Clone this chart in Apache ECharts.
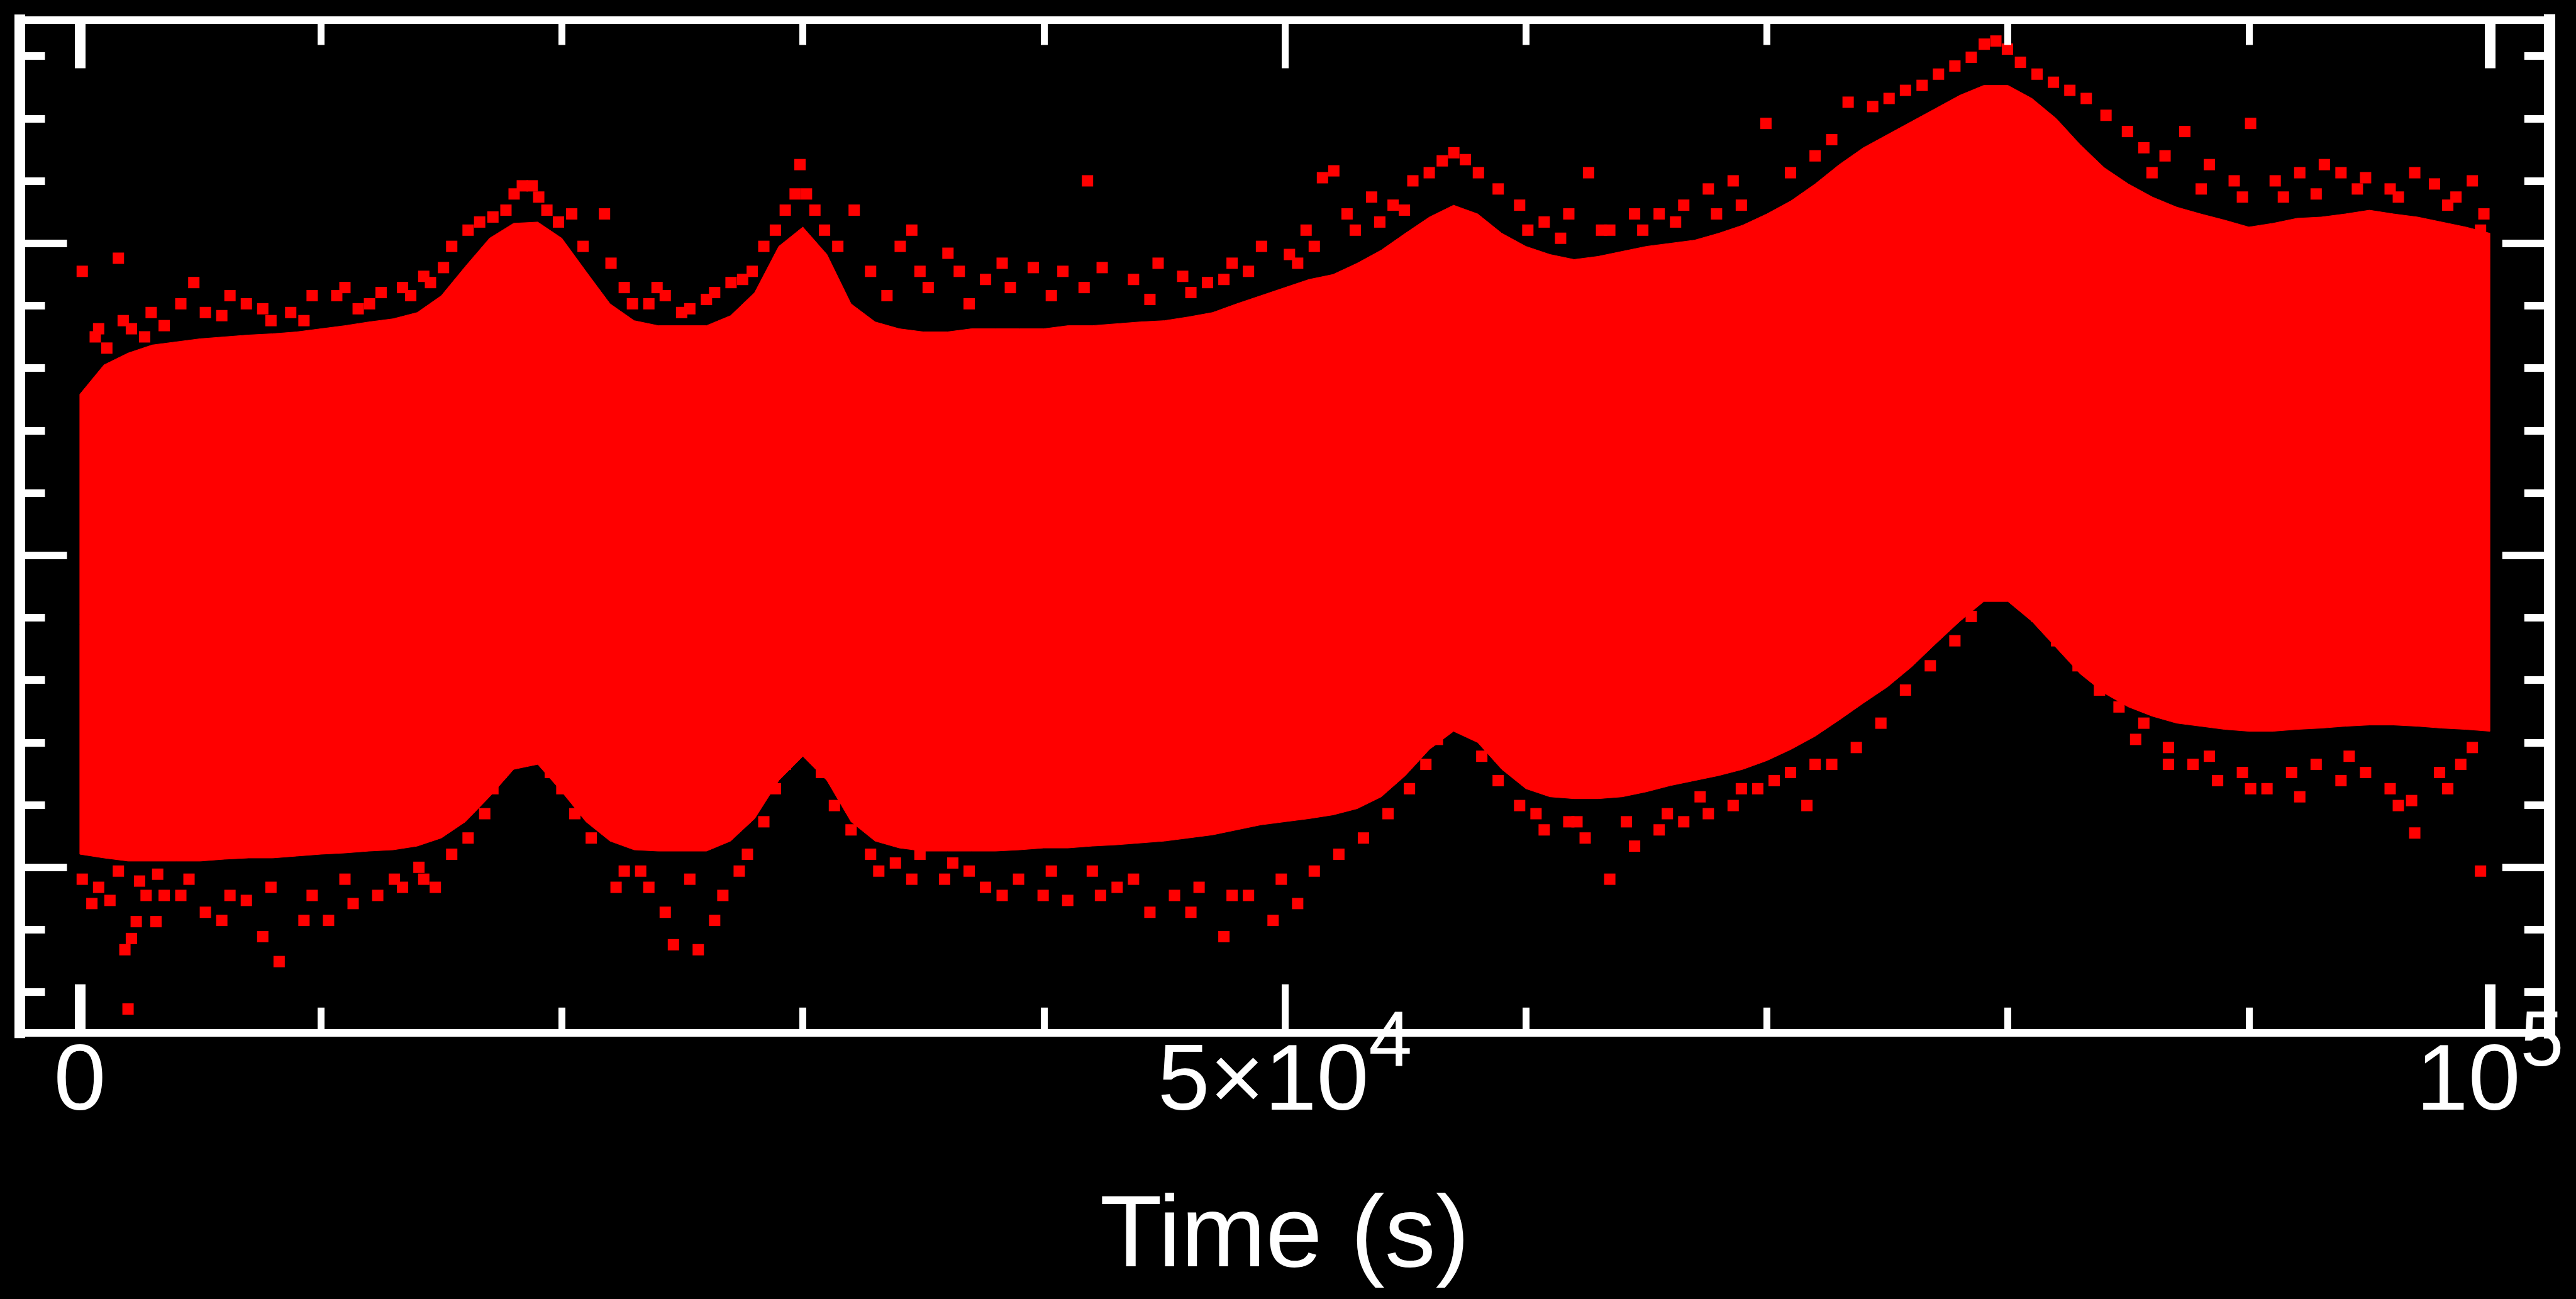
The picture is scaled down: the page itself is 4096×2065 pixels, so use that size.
<!DOCTYPE html>
<html><head><meta charset="utf-8">
<script src="https://cdn.jsdelivr.net/npm/echarts@6/dist/echarts.min.js"></script>
<style>html,body{margin:0;padding:0;background:#000;}#c{width:4096px;height:2065px;}</style>
</head><body><div id="c"></div>
<script>
// ---- data (time in s, arbitrary y units; y has no labels) ----
const times = [0,1000,2000,3000,4000,5000,6000,7000,8000,9000,
  10000,11000,12000,13000,14000,15000,16000,17000,18000,19000,
  20000,21000,22000,23000,24000,25000,26000,27000,28000,29000,
  30000,31000,32000,33000,34000,35000,36000,37000,38000,39000,
  40000,41000,42000,43000,44000,45000,46000,47000,48000,49000,
  50000,51000,52000,53000,54000,55000,56000,57000,58000,59000,
  60000,61000,62000,63000,64000,65000,66000,67000,68000,69000,
  70000,71000,72000,73000,74000,75000,76000,77000,78000,79000,
  80000,81000,82000,83000,84000,85000,86000,87000,88000,89000,
  90000,91000,92000,93000,94000,95000,96000,97000,98000,99000,100000];
// upper / lower edge of the densely filled part of the point cloud
const upperEnv = [12.58,13.05,13.24,13.37,13.42,13.47,13.50,13.53,13.55,13.58,
  13.63,13.68,13.74,13.79,13.89,14.16,14.63,15.08,15.32,15.34,
  15.08,14.55,14.03,13.76,13.68,13.68,13.68,13.84,14.21,14.95,
  15.26,14.82,14.03,13.74,13.63,13.58,13.58,13.63,13.63,13.63,
  13.63,13.68,13.68,13.71,13.74,13.76,13.82,13.89,14.03,14.16,
  14.29,14.42,14.50,14.68,14.89,15.16,15.42,15.61,15.47,15.16,
  14.95,14.82,14.74,14.79,14.87,14.95,15.00,15.05,15.16,15.29,
  15.47,15.68,15.95,16.26,16.53,16.74,16.95,17.16,17.37,17.53,
  17.53,17.32,17.00,16.58,16.21,15.95,15.74,15.58,15.47,15.37,
  15.26,15.32,15.40,15.42,15.47,15.53,15.47,15.42,15.34,15.26,15.16];
const lowerEnv = [5.21,5.15,5.10,5.10,5.10,5.10,5.13,5.15,5.15,5.18,
  5.21,5.23,5.26,5.28,5.34,5.47,5.73,6.13,6.57,6.65,
  6.21,5.73,5.42,5.28,5.26,5.26,5.26,5.42,5.78,6.39,
  6.78,6.39,5.73,5.42,5.31,5.26,5.26,5.26,5.26,5.28,
  5.31,5.31,5.34,5.36,5.39,5.42,5.47,5.52,5.60,5.68,
  5.73,5.78,5.84,5.94,6.13,6.47,6.89,7.18,7.00,6.57,
  6.26,6.13,6.10,6.10,6.13,6.21,6.31,6.39,6.47,6.57,
  6.71,6.89,7.10,7.36,7.63,7.89,8.21,8.58,8.94,9.26,
  9.26,8.94,8.52,8.10,7.79,7.57,7.42,7.31,7.26,7.21,
  7.18,7.18,7.21,7.23,7.26,7.28,7.28,7.26,7.23,7.21,7.18];
// scattered points above and below the dense part
const highOutliers = [[100,14.55],[1600,14.76],[640,13.50],[1120,13.32],[2140,13.63],[2960,13.89],[4190,14.03],[4730,14.37],[5890,13.84],[6910,14.03],[7930,13.76],[8750,13.89],[9640,14.16],[10660,14.16],[11550,13.95],[12500,14.21],[13390,14.29],[14270,14.47],[15090,14.61],[15430,14.95],[16110,15.21],[16590,15.34],[17140,15.42],[17680,15.53],[18020,15.79],[18360,15.92],[18770,15.92],[19040,15.74],[19380,15.53],[19860,15.34],[20410,15.47],[20880,14.95],[21770,15.47],[22040,14.68],[22590,14.29],[23610,14.03],[24290,14.16],[25310,13.95],[26340,14.21],[27500,14.42],[28380,14.95],[28860,15.21],[29270,15.53],[29680,15.79],[29880,16.26],[30150,15.79],[30500,15.53],[30900,15.21],[31450,14.95],[32130,15.53],[32810,14.55],[34040,14.95],[34520,15.21],[35200,14.29],[36020,14.84],[36490,14.55],[37580,14.42],[38610,14.29],[39560,14.61],[40790,14.55],[41810,16.00],[42420,14.61],[43720,14.42],[44740,14.68],[45760,14.47],[46790,14.37],[47810,14.68],[49030,14.95],[50190,14.82],[50880,15.21],[51560,16.05],[52030,16.16],[52580,15.47],[53600,15.74],[54490,15.61],[55310,16.00],[55990,16.13],[56530,16.32],[57010,16.45],[57490,16.34],[58030,16.13],[58850,15.87],[59740,15.61],[60760,15.34],[61780,15.47],[62600,16.13],[63480,15.21],[64510,15.47],[65530,15.47],[66550,15.61],[67570,15.87],[68600,16.00],[69960,16.92],[70980,16.13],[72000,16.40],[72690,16.66],[73370,17.26],[74390,17.19],[75070,17.32],[75750,17.45],[76440,17.53],[77120,17.71],[77800,17.84],[78480,17.98],[79020,18.19],[79500,18.24],[79980,18.11],[80520,17.90],[81210,17.71],[81890,17.58],[82570,17.45],[83250,17.32],[84070,17.05],[84960,16.79],[85640,16.53],[86520,16.40],[87340,16.79],[88360,16.26],[89390,16.00],[90070,16.92],[91090,16.00],[92110,16.13],[93130,16.26],[93820,16.13],[94840,16.05],[95860,15.87],[96880,16.13],[97700,15.95],[98590,15.74],[99270,16.00],[99750,15.47],
  [780,13.63],[1800,13.76],[2690,13.50],[3500,13.68],[5210,13.89],[6230,14.16],[7590,13.95],[9300,13.76],[11000,14.29],[12020,14.03],[13730,14.16],[14550,14.37],[22930,14.03],[23950,14.29],[24970,13.89],[26000,14.10],[27020,14.37],[27900,14.55],[33490,14.16],[34860,14.55],[36900,14.03],[38270,14.68],[40310,14.16],[41670,14.29],[44400,14.10],[46100,14.21],[47470,14.42],[48490,14.55],[50530,14.68],[51220,14.95],[52920,15.21],[53940,15.34],[54960,15.53],[60080,15.21],[61440,15.08],[63140,15.21],[64850,15.21],[66210,15.34],[67910,15.47],[68940,15.61],[85980,16.13],[88020,15.87],[89730,15.74],[91430,15.74],[92790,15.79],[94500,15.87],[96200,15.74],[98250,15.61],[99610,15.21]];
const lowOutliers = [[100,4.81],[500,4.42],[1250,4.47],[1870,3.68],[2000,2.73],[2140,3.86],[2340,4.13],[2480,4.78],[2750,4.55],[3160,4.13],[3230,4.89],[4190,4.55],[5210,4.28],[5890,4.15],[6910,4.47],[7590,3.89],[8270,3.49],[9300,4.15],[10320,4.15],[11340,4.42],[12360,4.55],[13390,4.68],[14270,4.81],[14750,4.68],[15430,5.21],[16110,5.47],[16800,5.86],[17140,6.26],[17480,6.52],[17950,6.78],[18630,7.57],[19040,6.92],[19520,6.52],[20000,6.26],[20540,5.86],[21220,5.47],[22250,4.68],[23270,4.94],[24290,4.28],[24630,3.76],[25660,3.68],[26680,4.55],[27700,5.21],[28380,5.73],[28860,6.26],[29270,6.65],[29680,7.31],[30090,7.71],[30430,7.05],[30770,6.52],[31310,5.99],[32000,5.60],[32810,5.21],[33840,5.07],[34860,5.21],[35880,4.81],[36900,4.94],[37580,4.68],[38950,4.81],[39970,4.55],[40990,4.47],[42010,4.94],[43040,4.68],[44400,4.28],[45420,4.55],[46440,4.68],[47470,3.89],[48490,4.55],[49510,4.15],[50530,4.42],[51220,4.94],[52240,5.21],[53260,5.47],[54280,5.86],[55170,6.26],[55850,6.65],[56330,7.05],[57690,7.31],[58170,6.78],[58850,6.39],[59740,5.99],[60760,5.60],[61780,5.73],[62460,5.47],[63480,4.81],[64510,5.34],[65530,5.60],[66550,5.73],[67570,5.86],[68600,5.99],[69620,6.26],[70980,6.52],[71660,5.99],[72690,6.65],[73710,6.92],[74730,7.31],[75750,7.84],[76780,8.23],[77800,8.63],[78480,9.02],[80390,9.42],[81210,9.02],[82020,8.63],[82910,8.23],[83800,7.84],[84610,7.57],[85640,7.31],[86660,6.92],[87680,6.65],[88700,6.39],[89730,6.52],[90750,6.26],[91770,6.52],[92790,6.65],[93820,6.39],[94840,6.52],[95860,6.26],[96750,6.07],[96880,5.55],[97910,6.52],[98790,6.65],[99610,4.94],
  [780,4.68],[1600,4.94],[3500,4.55],[4530,4.81],[6230,4.55],[7930,4.68],[9640,4.55],[11000,4.81],[13050,4.81],[14070,5.00],[22590,4.94],[23610,4.68],[25310,4.81],[26340,4.15],[27360,4.94],[33150,4.94],[34520,4.81],[36220,5.07],[38270,4.55],[40310,4.94],[42350,4.55],[43720,4.81],[46100,4.28],[47810,4.55],[49850,4.81],[60420,5.86],[62120,5.73],[64170,5.73],[65870,5.86],[67230,6.13],[68940,6.26],[70300,6.39],[72000,6.65],[85300,7.05],[86660,6.65],[88360,6.78],[90070,6.26],[92110,6.13],[94160,6.78],[96200,5.99],[98250,6.26],[99270,6.92]];

// ---- ticks / labels ----
const xMinorTicks = [10000,20000,30000,40000,60000,70000,80000,90000];
const xMidTick = [50000];
const xEndTicks = [0,100000];
const xLabelValues = [0,50000,100000];
const yMinorTicks = [3,4,6,7,8,9,11,12,13,14,16,17,18];
const yMajorTicks = [5,10,15];
const X_MIN = -2490, X_MAX = 102470, Y_MIN = 2.35, Y_MAX = 18.58;

const FONT = 'Liberation Sans';
const WHITE = '#ffffff', RED = '#ff0000';

function baseAxis(pos, min, max) {
  return { type: 'value', position: pos, min: min, max: max, scale: true, z: 10,
    axisLine: { show: false, onZero: false },
    axisTick: { show: false }, axisLabel: { show: false }, splitLine: { show: false } };
}
function tickAxis(pos, min, max, vals, len, w) {
  const a = baseAxis(pos, min, max);
  a.axisTick = { show: true, inside: true, length: len, customValues: vals,
    lineStyle: { color: WHITE, width: w } };
  return a;
}
function withLine(a, w) {
  a.axisLine = { show: true, onZero: false, lineStyle: { color: WHITE, width: w, cap: 'square' } };
  return a;
}

const xBottom = withLine(tickAxis('bottom', X_MIN, X_MAX, xMinorTicks, 40, 11), 12);
xBottom.axisLabel = {
  show: true, customValues: xLabelValues, margin: 6, color: WHITE, fontFamily: FONT,
  formatter: function (v) {
    if (v === 0) return '{z|0}';
    if (v === 50000) return '{b|5×10}{s|4}';
    return '{b|10}{s|5}';
  },
  rich: {
    z: { fontSize: 149, lineHeight: 150, padding: [50, 0, 0, 0], verticalAlign: 'bottom', color: WHITE, fontFamily: FONT },
    b: { fontSize: 149, lineHeight: 150, verticalAlign: 'bottom', color: WHITE, fontFamily: FONT },
    s: { fontSize: 124, lineHeight: 124, padding: [0, 0, 76, 0], verticalAlign: 'bottom', color: WHITE, fontFamily: FONT }
  }
};
xBottom.name = 'Time (s)';
xBottom.nameLocation = 'middle';
xBottom.nameGap = 246;
xBottom.nameMoveOverlap = false;
xBottom.nameTextStyle = { color: WHITE, fontSize: 162, lineHeight: 162, fontFamily: FONT };

const xAxes = [
  xBottom,
  tickAxis('bottom', X_MIN, X_MAX, xMidTick, 77, 11),
  tickAxis('bottom', X_MIN, X_MAX, xEndTicks, 77, 17),
  withLine(tickAxis('top', X_MIN, X_MAX, xMinorTicks, 40, 11), 12),
  tickAxis('top', X_MIN, X_MAX, xMidTick, 77, 11),
  tickAxis('top', X_MIN, X_MAX, xEndTicks, 77, 17)
];
const yAxes = [
  withLine(tickAxis('left', Y_MIN, Y_MAX, yMinorTicks, 40, 12), 17),
  tickAxis('left', Y_MIN, Y_MAX, yMajorTicks, 75, 12),
  withLine(tickAxis('right', Y_MIN, Y_MAX, yMinorTicks, 40, 12), 18),
  tickAxis('right', Y_MIN, Y_MAX, yMajorTicks, 75, 12)
];

const chart = echarts.init(document.getElementById('c'), null, { renderer: 'canvas' });
chart.setOption({
  backgroundColor: '#000000',
  animation: false,
  grid: { left: 31.5, right: 42.2, top: 31.5, bottom: 423.3, containLabel: false, outerBoundsMode: 'none', show: false },
  xAxis: xAxes,
  yAxis: yAxes,
  series: [
    { type: 'custom', xAxisIndex: 0, yAxisIndex: 0, silent: true, z: 2, clip: true,
      data: [[times[0], lowerEnv[0]]], encode: { x: 0, y: 1 },
      renderItem: function (params, api) {
        const pts = [];
        for (let i = 0; i < times.length; i++) pts.push(api.coord([times[i], upperEnv[i]]));
        for (let i = times.length - 1; i >= 0; i--) pts.push(api.coord([times[i], lowerEnv[i]]));
        return { type: 'polygon', shape: { points: pts }, style: { fill: RED, stroke: RED, lineWidth: 1 } };
      } },
    { type: 'scatter', xAxisIndex: 0, yAxisIndex: 0, symbol: 'rect', symbolSize: 18, silent: true, z: 3,
      data: highOutliers, itemStyle: { color: RED, opacity: 1 } },
    { type: 'scatter', xAxisIndex: 0, yAxisIndex: 0, symbol: 'rect', symbolSize: 18, silent: true, z: 3,
      data: lowOutliers, itemStyle: { color: RED, opacity: 1 } }
  ]
});
</script></body></html>
